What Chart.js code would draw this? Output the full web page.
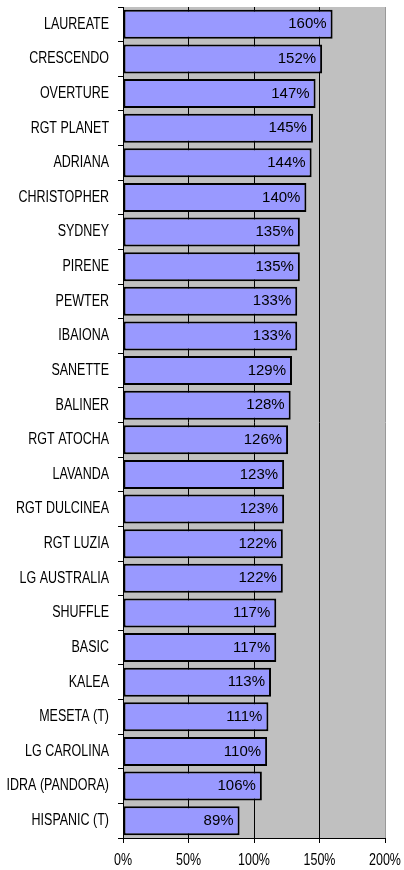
<!DOCTYPE html>
<html>
<head>
<meta charset="utf-8">
<script src="https://cdn.jsdelivr.net/npm/chart.js@4.4.1/dist/chart.umd.min.js"></script>
<style>
  html, body { margin: 0; padding: 0; background: #fff; }
  #wrap { width: 404px; height: 870px; }
</style>
</head>
<body>
<div id="wrap"><canvas id="chart" width="404" height="870"></canvas></div>
<script>
const varieties = [
  'LAUREATE', 'CRESCENDO', 'OVERTURE', 'RGT PLANET', 'ADRIANA', 'CHRISTOPHER',
  'SYDNEY', 'PIRENE', 'PEWTER', 'IBAIONA', 'SANETTE', 'BALINER',
  'RGT ATOCHA', 'LAVANDA', 'RGT DULCINEA', 'RGT LUZIA', 'LG AUSTRALIA', 'SHUFFLE',
  'BASIC', 'KALEA', 'MESETA (T)', 'LG CAROLINA', 'IDRA (PANDORA)', 'HISPANIC (T)'
];
const yieldPct = [
  160, 152, 147, 145, 144, 140,
  135, 135, 133, 133, 129, 128,
  126, 123, 123, 122, 122, 117,
  117, 113, 111, 110, 106, 89
];
const xTicks = [0, 50, 100, 150, 200];

const AXIS_FONT = '16px "Liberation Sans", Arial, sans-serif';
const VALUE_FONT = '15px "Liberation Sans", Arial, sans-serif';
const SQUEEZE = 0.78; // fake "Arial Narrow"

// grey plot background
const plotBg = {
  id: 'plotBg',
  beforeDraw(chart) {
    const { ctx, chartArea: a } = chart;
    ctx.save();
    ctx.fillStyle = '#c0c0c0';
    ctx.fillRect(a.left, a.top, a.right - a.left, a.bottom - a.top);
    ctx.restore();
  }
};

function narrowText(ctx, txt, x, y) {
  ctx.save();
  ctx.translate(x, y);
  ctx.scale(SQUEEZE, 1);
  ctx.fillText(txt, 0, 0);
  ctx.restore();
}

// axis labels in a condensed face + value labels inside bars
const labels = {
  id: 'labels',
  afterDraw(chart) {
    const ctx = chart.ctx;
    const xs = chart.scales.x, ys = chart.scales.y;
    ctx.save();
    ctx.fillStyle = '#000';
    ctx.textBaseline = 'middle';

    ctx.font = AXIS_FONT;
    ctx.textAlign = 'right';
    varieties.forEach((name, i) => {
      narrowText(ctx, name, ys.right - 14, ys.getPixelForTick(i));
    });

    ctx.textAlign = 'center';
    xTicks.forEach(v => {
      narrowText(ctx, v + '%', xs.getPixelForValue(v), xs.top + 23);
    });

    ctx.font = VALUE_FONT;
    const meta = chart.getDatasetMeta(0);
    ctx.textAlign = 'right';
    meta.data.forEach((bar, i) => {
      ctx.fillText(yieldPct[i] + '%', bar.x - 6, bar.y);
    });
    ctx.restore();
  }
};

new Chart(document.getElementById('chart'), {
  type: 'bar',
  data: {
    labels: varieties,
    datasets: [{
      data: yieldPct,
      backgroundColor: '#9999ff',
      borderColor: '#000',
      borderWidth: 2,
      borderSkipped: false,
      categoryPercentage: 0.84,
      barPercentage: 1
    }]
  },
  options: {
    indexAxis: 'y',
    responsive: false,
    animation: false,
    layout: { padding: { top: 7, right: 19, left: 0, bottom: 0 } },
    plugins: { legend: { display: false }, tooltip: { enabled: false } },
    scales: {
      x: {
        min: 0,
        max: 200,
        afterBuildTicks(scale) { scale.ticks = xTicks.map(v => ({ value: v })); },
        afterFit(scale) { scale.height = 32; },
        border: { display: true, color: '#000', width: 1 },
        grid: {
          color: c => (c.tick && c.tick.value === 200 ? '#999' : '#000'),
          lineWidth: 1,
          tickLength: 5,
          tickColor: '#000'
        },
        ticks: { display: false }
      },
      y: {
        afterFit(scale) { scale.width = 123; },
        border: { display: true, color: '#000', width: 1 },
        grid: {
          offset: true,
          drawOnChartArea: false,
          tickLength: 5,
          tickColor: '#000'
        },
        ticks: { display: false }
      }
    }
  },
  plugins: [plotBg, labels]
});
</script>
</body>
</html>
